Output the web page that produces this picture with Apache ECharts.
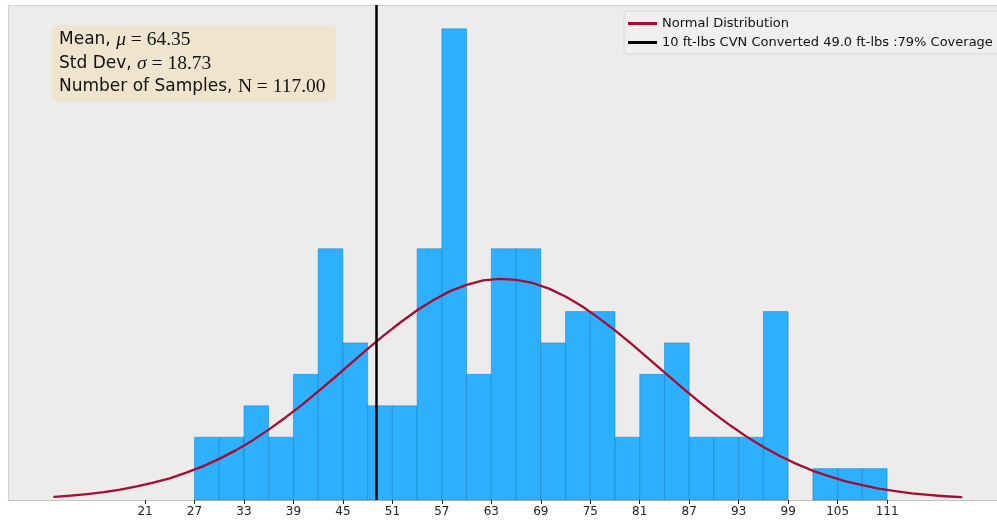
<!DOCTYPE html>
<html>
<head>
<meta charset="utf-8">
<script src="https://cdn.jsdelivr.net/npm/echarts@6/dist/echarts.min.js"></script>
<style>
  html, body { margin: 0; padding: 0; background: #fff; }
  #chart { width: 997px; height: 521px; }
</style>
</head>
<body>
<div id="chart"></div>
<script>
// histogram bins (left edges, width 3) and counts
const binStarts = [27, 30, 33, 36, 39, 42, 45, 48, 51, 54, 57, 60, 63, 66, 69, 72, 75, 78, 81, 84, 87, 90, 93, 96, 99, 102, 105, 108];
const binCounts = [2, 2, 3, 2, 4, 8, 5, 3, 3, 8, 15, 4, 8, 8, 5, 6, 6, 2, 4, 5, 2, 2, 2, 6, 0, 1, 1, 1];
const binWidth = 3;

// normal curve (every 2 units)
const curveX = [10, 12, 14, 16, 18, 20, 22, 24, 26, 28, 30, 32, 34, 36, 38, 40, 42, 44, 46, 48,
                50, 52, 54, 56, 58, 60, 62, 64, 66, 68, 70, 72, 74, 76, 78, 80, 82, 84, 86, 88,
                90, 92, 94, 96, 98, 100, 102, 104, 106, 108, 110, 112, 114, 116, 118, 120];
const curveY = [0.10, 0.14, 0.19, 0.25, 0.33, 0.43, 0.55, 0.69, 0.87, 1.07, 1.31, 1.58, 1.89, 2.24, 2.62, 3.02, 3.46, 3.90, 4.36, 4.81,
                5.25, 5.66, 6.04, 6.37, 6.65, 6.85, 6.99, 7.04, 7.01, 6.91, 6.73, 6.48, 6.17, 5.80, 5.40, 4.97, 4.52, 4.06, 3.61, 3.17,
                2.76, 2.37, 2.01, 1.69, 1.40, 1.15, 0.93, 0.75, 0.59, 0.47, 0.36, 0.28, 0.21, 0.16, 0.12, 0.09];

const tickValues = [21, 27, 33, 39, 45, 51, 57, 63, 69, 75, 81, 87, 93, 99, 105, 111];
const cvnLine = 49.0;

const meanVal = '64.35';
const stdVal = '18.73';
const nVal = '117.00';

const chart = echarts.init(document.getElementById('chart'));

const frameColor = '#d2d2d2';

const option = {
  animation: false,
  backgroundColor: '#ffffff',
  grid: {
    left: 8, right: 0, top: 5, bottom: 21,
    show: true,
    backgroundColor: '#ececec',
    borderWidth: 0
  },
  legend: {
    orient: 'vertical',
    left: 624, top: 11,
    itemWidth: 29, itemHeight: 3,
    itemGap: 6,
    padding: [6, 8, 5, 4],
    backgroundColor: 'rgba(240,240,240,0.9)',
    borderColor: '#d6d6d6',
    borderWidth: 1,
    borderRadius: 3,
    textStyle: { fontFamily: 'DejaVu Sans', fontSize: 13, color: '#111' },
    data: [
      { name: 'Normal Distribution', icon: 'rect' },
      { name: '10 ft-lbs CVN Converted 49.0 ft-lbs :79% Coverage', icon: 'rect' }
    ]
  },
  xAxis: [
    {
      type: 'value',
      min: 4.38, max: 124.33,
      splitLine: { show: false },
      axisLine: { lineStyle: { color: '#c4c4c4', width: 1 } },
      axisTick: {
        customValues: tickValues,
        length: 4,
        lineStyle: { color: '#222', width: 1 }
      },
      axisLabel: {
        customValues: tickValues,
        fontFamily: 'DejaVu Sans',
        fontSize: 12,
        color: '#222',
        margin: 6
      }
    },
    {
      // top frame line only
      type: 'value',
      position: 'top',
      min: 4.38, max: 124.33,
      splitLine: { show: false },
      axisLine: { lineStyle: { color: frameColor, width: 1 } },
      axisTick: { show: false },
      axisLabel: { show: false }
    }
  ],
  yAxis: {
    type: 'value',
    min: 0, max: 15.76,
    splitLine: { show: false },
    axisLine: { show: true, lineStyle: { color: frameColor, width: 1 } },
    axisTick: { show: false },
    axisLabel: { show: false }
  },
  series: [
    {
      name: 'Histogram',
      type: 'custom',
      z: 2,
      encode: { x: [0, 1], y: 2 },
      data: binStarts.map((s, i) => [s, s + binWidth, binCounts[i]]),
      renderItem: function (params, api) {
        if (!api.value(2)) return null;
        const p0 = api.coord([api.value(0), api.value(2)]);
        const p1 = api.coord([api.value(1), 0]);
        return {
          type: 'rect',
          shape: { x: p0[0], y: p0[1], width: p1[0] - p0[0], height: p1[1] - p0[1] },
          style: { fill: '#2cb0ff', stroke: 'rgba(10,120,180,0.55)', lineWidth: 0.8 }
        };
      }
    },
    {
      name: 'Normal Distribution',
      type: 'line',
      z: 3,
      smooth: false,
      showSymbol: false,
      data: curveX.map((x, i) => [x, curveY[i]]),
      itemStyle: { color: '#a50d33' },
      lineStyle: { color: '#a50d33', width: 2.3, join: 'round', cap: 'round' }
    },
    {
      name: '10 ft-lbs CVN Converted 49.0 ft-lbs :79% Coverage',
      type: 'line',
      z: 4,
      data: [],
      itemStyle: { color: '#000' },
      lineStyle: { color: '#000', width: 2.5 },
      markLine: {
        silent: true,
        symbol: ['none', 'none'],
        label: { show: false },
        lineStyle: { color: '#000', width: 2.5, type: 'solid' },
        data: [{ xAxis: cvnLine }]
      }
    }
  ],
  graphic: [
    {
      type: 'rect',
      left: 52, top: 25,
      z: 10,
      shape: { width: 284, height: 77, r: 5 },
      style: { fill: '#f1e4cf' }
    },
    {
      type: 'text',
      left: 59, top: 30,
      z: 11,
      style: {
        text: '{s|Mean, }{mi|μ}{m| = ' + meanVal + '}\n' +
              '{s|Std Dev, }{mi|σ}{m| = ' + stdVal + '}\n' +
              '{s|Number of Samples, }{m|N = ' + nVal + '}',
        rich: {
          s: { fontFamily: 'DejaVu Sans', fontSize: 17, fill: '#111', lineHeight: 23.5 },
          m: { fontFamily: 'Liberation Serif', fontSize: 19.5, fill: '#111', lineHeight: 23.5 },
          mi: { fontFamily: 'Liberation Serif', fontStyle: 'italic', fontSize: 19.5, fill: '#111', lineHeight: 23.5 }
        }
      }
    }
  ]
};

chart.setOption(option);
</script>
</body>
</html>
